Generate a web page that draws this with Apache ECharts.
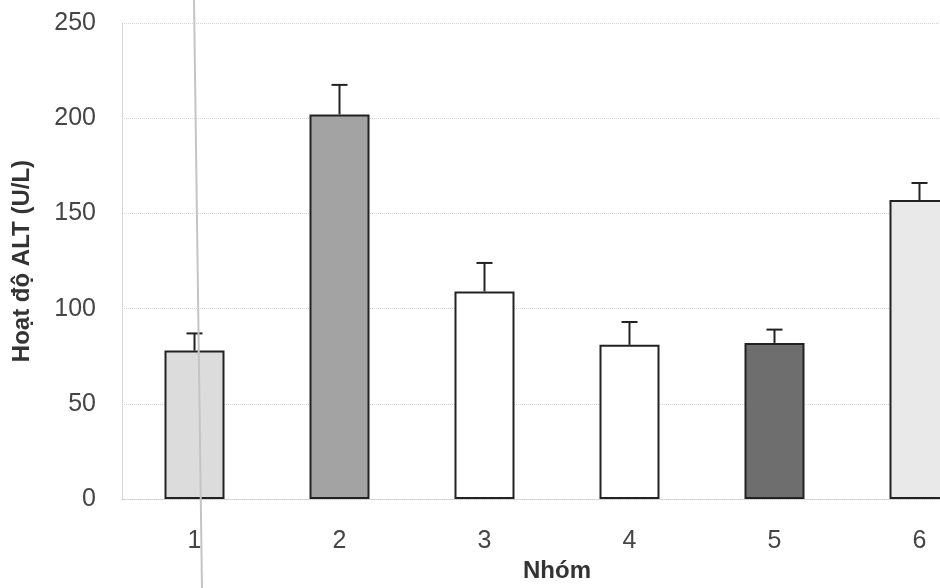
<!DOCTYPE html>
<html>
<head>
<meta charset="utf-8">
<title>Hoạt độ ALT</title>
<script src="https://cdn.jsdelivr.net/npm/echarts@6/dist/echarts.min.js"></script>
<style>
  html, body { margin: 0; padding: 0; background: #fff; overflow: hidden; }
  /* khung rộng hơn cửa sổ: cột 6 bị cắt ở mép phải như trong bản gốc */
  #chart { width: 995px; height: 588px; }
</style>
</head>
<body>
<div id="chart"></div>
<script>
// số liệu
const groups = ["1", "2", "3", "4", "5", "6"];
const altMean = [78, 202, 109, 81, 82, 157];
const altErr = [9, 15.5, 15, 12, 7, 9];
const barColors = ["#dcdcdc", "#a3a3a3", "#ffffff", "#ffffff", "#6e6e6e", "#e9e9e9"];

const chart = echarts.init(document.getElementById("chart"));

const tickFont = { fontFamily: "Liberation Sans, Arial, sans-serif", fontSize: 25, color: "#454545" };
const nameFont = { fontFamily: "Liberation Sans, Arial, sans-serif", fontSize: 24, fontWeight: "bold", color: "#333" };

chart.setOption({
  animation: false,
  backgroundColor: "#fff",
  grid: { left: 122, right: 3, top: 23, bottom: 88 },
  xAxis: {
    type: "category",
    data: groups,
    name: "Nhóm",
    nameLocation: "middle",
    nameGap: 54,
    nameTextStyle: nameFont,
    axisLine: { lineStyle: { color: "#ccc", type: "dotted" } },
    axisTick: { show: false },
    axisLabel: Object.assign({ margin: 30 }, tickFont)
  },
  yAxis: {
    type: "value",
    min: 0,
    max: 250,
    interval: 50,
    name: "Hoạt độ ALT (U/L)",
    nameLocation: "middle",
    nameGap: 88,
    nameTextStyle: nameFont,
    axisLine: { show: true, lineStyle: { color: "#ccc", type: "dotted" } },
    axisTick: { show: false },
    axisLabel: Object.assign({ margin: 26 }, tickFont),
    splitLine: { lineStyle: { color: "#d4d4d4", type: "dotted" } }
  },
  series: [
    {
      type: "bar",
      barWidth: 60,
      data: altMean.map((v, i) => ({
        value: v,
        itemStyle: { color: barColors[i], borderColor: "#222", borderWidth: 2 }
      }))
    },
    {
      // thanh sai số (chỉ phía trên)
      type: "custom",
      data: altMean.map((v, i) => [i, v, v + altErr[i]]),
      renderItem: function (params, api) {
        const base = api.coord([api.value(0), api.value(1)]);
        const top = api.coord([api.value(0), api.value(2)]);
        const style = { stroke: "#222", lineWidth: 2 };
        return {
          type: "group",
          children: [
            { type: "line", shape: { x1: base[0], y1: base[1], x2: top[0], y2: top[1] }, style: style },
            { type: "line", shape: { x1: top[0] - 8, y1: top[1], x2: top[0] + 8, y2: top[1] }, style: style }
          ]
        };
      },
      z: 3
    }
  ],
  graphic: [
    // vết gấp giấy trên bản scan
    { type: "line", shape: { x1: 194, y1: 0, x2: 202, y2: 588 }, style: { stroke: "#c4c4c4", lineWidth: 2 }, z: 10 }
  ]
});
</script>
</body>
</html>
